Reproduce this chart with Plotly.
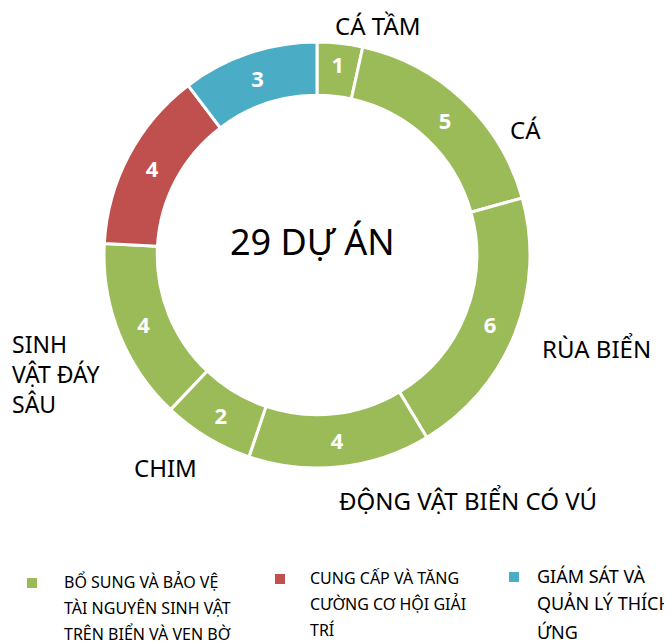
import plotly.graph_objects as go

# Data
categories = ["CÁ TẦM", "CÁ", "RÙA BIỂN", "ĐỘNG VẬT BIỂN CÓ VÚ", "CHIM", "SINH VẬT ĐÁY SÂU",
              "CUNG CẤP VÀ TĂNG CƯỜNG CƠ HỘI GIẢI TRÍ", "GIÁM SÁT VÀ QUẢN LÝ THÍCH ỨNG"]
values = [1, 5, 6, 4, 2, 4, 4, 3]
groups = [0, 0, 0, 0, 0, 0, 1, 2]
group_names = ["BỔ SUNG VÀ BẢO VỆ TÀI NGUYÊN SINH VẬT TRÊN BIỂN VÀ VEN BỜ",
               "CUNG CẤP VÀ TĂNG CƯỜNG CƠ HỘI GIẢI TRÍ",
               "GIÁM SÁT VÀ QUẢN LÝ THÍCH ỨNG"]
group_lines = [["BỔ SUNG VÀ BẢO VỆ", "TÀI NGUYÊN SINH VẬT", "TRÊN BIỂN VÀ VEN BỜ"],
               ["CUNG CẤP VÀ TĂNG", "CƯỜNG CƠ HỘI GIẢI", "TRÍ"],
               ["GIÁM SÁT VÀ", "QUẢN LÝ THÍCH", "ỨNG"]]
group_colors = ["#9BBB59", "#C0504D", "#4BACC6"]
center_text = "29 DỰ ÁN"

FONT = "Noto Sans"
W, H = 672, 644
OFF = 8  # page body margin

def px(x, y):
    return (x - OFF) / W, 1 - (y - OFF) / H

fig = go.Figure()
cx, cy, R = 317, 255, 213
fig.add_trace(go.Pie(
    labels=categories,
    values=values,
    sort=False,
    direction="clockwise",
    rotation=0,
    hole=0.75,
    marker=dict(colors=[group_colors[g] for g in groups],
                line=dict(color="white", width=3)),
    textinfo="value",
    textposition="inside",
    insidetextorientation="horizontal",
    textfont=dict(family=FONT, size=22, color="white", weight="bold"),
    domain=dict(x=[(cx - R - OFF) / W, (cx + R - OFF) / W],
                y=[1 - (cy + R - OFF) / H, 1 - (cy - R - OFF) / H]),
    showlegend=False,
    hoverinfo="label+value",
))

annotations = []
LS = 24
lab_pos = [(378, 25), (525, 130), (596, 348), (468, 500), (165, 467)]
for (x, y), name in zip(lab_pos, categories[:5]):
    xx, yy = px(x, y)
    annotations.append(dict(x=xx, y=yy, xref="paper", yref="paper", text=name,
                            showarrow=False, xanchor="center", yanchor="middle",
                            font=dict(family=FONT, size=LS, color="#000000")))
xx, yy = px(10, 374)
annotations.append(dict(x=xx, y=yy, xref="paper", yref="paper",
                        text="<br>".join(["SINH", "VẬT ĐÁY", "SÂU"]),
                        showarrow=False, xanchor="left", yanchor="middle", align="left",
                        font=dict(family=FONT, size=23, color="#000000")))
xx, yy = px(312, 242)
annotations.append(dict(x=xx, y=yy, xref="paper", yref="paper", text=center_text,
                        showarrow=False, xanchor="center", yanchor="middle",
                        font=dict(family=FONT, size=36, color="#000000")))

shapes = []
leg = [(32, 62, [582, 608, 634], 16, 583),
       (280, 308, [578, 604, 630], 16, 579),
       (514, 535, [576, 603, 632], 18, 577)]
for (mx, tx, ys, fs, my), lines, col in zip(leg, group_lines, group_colors):
    x0, y1 = px(mx - 5, my - 5)
    x1, y0 = px(mx + 5, my + 5)
    shapes.append(dict(type="rect", xref="paper", yref="paper",
                       x0=x0, x1=x1, y0=y0, y1=y1,
                       fillcolor=col, line=dict(width=0)))
    for ln, y in zip(lines, ys):
        xx, yy = px(tx, y)
        annotations.append(dict(x=xx, y=yy, xref="paper", yref="paper", text=ln,
                                showarrow=False, xanchor="left", yanchor="middle",
                                font=dict(family=FONT, size=fs, color="#000000")))

fig.update_layout(
    width=W, height=H,
    margin=dict(l=0, r=0, t=0, b=0),
    paper_bgcolor="white", plot_bgcolor="white",
    annotations=annotations, shapes=shapes,
    uniformtext=dict(minsize=14, mode="show"),
)
fig.write_html("out.html")
